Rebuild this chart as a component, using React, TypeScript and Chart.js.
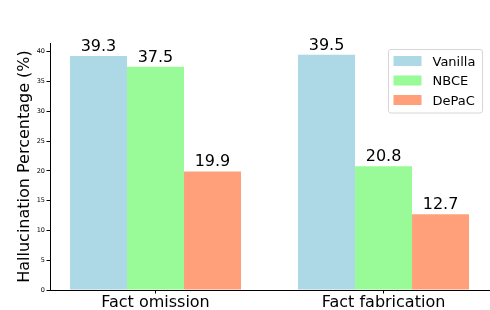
import React, { useEffect, useRef } from "react";
import { Chart, registerables } from "chart.js";

Chart.register(...registerables);

const categories = ["Fact omission", "Fact fabrication"];
const seriesNames = ["Vanilla", "NBCE", "DePaC"];
const vanilla = [39.3, 39.5];
const nbce = [37.5, 20.8];
const depac = [19.9, 12.7];
const seriesColors = ["#ADD8E6", "#98FB98", "#FFA07A"];
const yTicks = [0, 5, 10, 15, 20, 25, 30, 35, 40];
const yLabel = "Hallucination Percentage (%)";

const FONT = "'DejaVu Sans', 'Liberation Sans', sans-serif";

const valueLabels = {
  id: "valueLabels",
  afterDatasetsDraw(chart: any) {
    const ctx = chart.ctx;
    ctx.save();
    ctx.font = `16px ${FONT}`;
    ctx.fillStyle = "#000";
    ctx.textAlign = "center";
    ctx.textBaseline = "alphabetic";
    chart.data.datasets.forEach((ds: any, i: number) => {
      const meta = chart.getDatasetMeta(i);
      meta.data.forEach((bar: any, j: number) => {
        const v = ds.data[j].y;
        ctx.fillText(v.toFixed(1), bar.x, bar.y - 5);
      });
    });
    ctx.restore();
  },
};

const boxLegend = {
  id: "boxLegend",
  afterDraw(chart: any) {
    const ctx = chart.ctx;
    const area = chart.chartArea;
    const w = 94;
    const h = 63.5;
    const x0 = area.right - 6.5 - w;
    const y0 = area.top + 6.5;
    ctx.save();
    ctx.beginPath();
    if (ctx.roundRect) ctx.roundRect(x0, y0, w, h, 2.5);
    else ctx.rect(x0, y0, w, h);
    ctx.fillStyle = "rgba(255,255,255,0.8)";
    ctx.fill();
    ctx.strokeStyle = "#d6d6d6";
    ctx.lineWidth = 1;
    ctx.stroke();
    ctx.font = `13px ${FONT}`;
    ctx.textAlign = "left";
    ctx.textBaseline = "alphabetic";
    chart.data.datasets.forEach((ds: any, i: number) => {
      const cy = y0 + 11.5 + i * 19.5;
      ctx.fillStyle = ds.backgroundColor;
      ctx.fillRect(x0 + 5, cy - 5, 28, 10);
      ctx.fillStyle = "#000";
      ctx.fillText(ds.label, x0 + 44, cy + 4.7);
    });
    ctx.restore();
  },
};

export default function App() {
  const ref = useRef<HTMLCanvasElement | null>(null);
  useEffect(() => {
    if (!ref.current) return;
    const series = [vanilla, nbce, depac];
    const chart = new Chart(ref.current, {
      type: "bar",
      data: {
        datasets: series.map((vals, i) => ({
          label: seriesNames[i],
          data: vals.map((v, j) => ({ x: j, y: v })),
          backgroundColor: seriesColors[i],
          borderWidth: 0,
          categoryPercentage: 0.75,
          barPercentage: 1.0,
        })),
      },
      options: {
        responsive: false,
        animation: false,
        devicePixelRatio: 1,
        layout: { padding: { top: 43, right: 1, left: 0, bottom: 0 } },
        plugins: {
          legend: { display: false },
          tooltip: { enabled: false },
        },
        scales: {
          x: {
            type: "linear",
            min: -0.4625,
            max: 1.4625,
            offset: false,
            afterBuildTicks: (scale: any) => {
              scale.ticks = categories.map((_, i) => ({ value: i }));
            },
            afterFit: (scale: any) => {
              scale.height = 20;
            },
            ticks: {
              callback: (v: any) => categories[Number(v)] ?? "",
              font: { family: FONT, size: 16, lineHeight: 1 },
              color: "#000",
              padding: 1,
              maxRotation: 0,
              autoSkip: false,
            },
            grid: {
              offset: false,
              drawOnChartArea: false,
              drawTicks: true,
              tickLength: 3.5,
              color: "#000",
            },
            border: { display: true, color: "#000", width: 1 },
          },
          y: {
            min: 0,
            max: 41.475,
            afterBuildTicks: (scale: any) => {
              scale.ticks = yTicks.map((v) => ({ value: v }));
            },
            afterFit: (scale: any) => {
              scale.width = 50;
            },
            ticks: {
              font: { family: FONT, size: 6.5 },
              color: "#000",
              padding: 1.5,
              includeBounds: false,
            },
            grid: {
              drawOnChartArea: false,
              drawTicks: true,
              tickLength: 3.5,
              color: "#000",
            },
            border: { display: true, color: "#000", width: 1 },
            title: {
              display: true,
              text: yLabel,
              color: "#000",
              font: { family: FONT, size: 16 },
              padding: { top: 15.5, bottom: 0 },
            },
          },
        },
      },
      plugins: [valueLabels, boxLegend],
    } as any);
    return () => chart.destroy();
  }, []);
  return (
    <div style={{ position: "fixed", left: 0, top: 0, width: 490, height: 310, background: "#fff" }}>
      <canvas ref={ref} width={490} height={310} style={{ display: "block", width: 490, height: 310 }} />
    </div>
  );
}
